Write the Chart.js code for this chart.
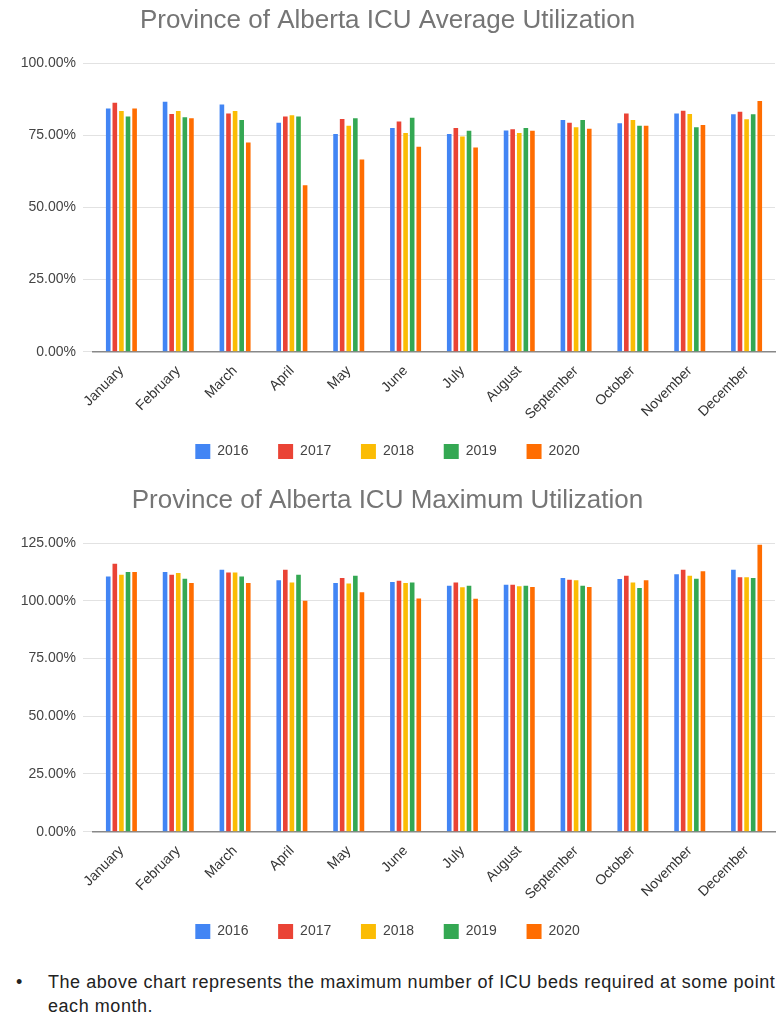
<!DOCTYPE html>
<html>
<head>
<meta charset="utf-8">
<script src="https://cdn.jsdelivr.net/npm/chart.js@4/dist/chart.umd.min.js"></script>
<style>
  body { margin: 0; background: #fff; font-family: "Liberation Sans", Arial, sans-serif; overflow: hidden; }
  .chart-box { position: absolute; left: 0; width: 777px; }
  #avg-box { top: 0; height: 469px; }
  #max-box { top: 480px; height: 469px; }
  .note {
    position: absolute; top: 970px; left: 0; width: 777px;
    margin: 0; padding: 0; list-style: none;
    font-size: 18px; letter-spacing: 0.55px; line-height: 24px; color: #222;
    white-space: nowrap;
  }
  .note li { position: relative; padding-left: 48px; }
  .note li::before { content: "\2022"; position: absolute; left: 16px; letter-spacing: 0; }
</style>
</head>
<body>
<div class="chart-box" id="avg-box"><canvas id="avg-chart"></canvas></div>
<div class="chart-box" id="max-box"><canvas id="max-chart"></canvas></div>
<ul class="note">
  <li>The above chart represents the maximum number of ICU beds required at some point<br>each month.</li>
</ul>
<script>
// Data
const months = ["January", "February", "March", "April", "May", "June", "July",
  "August", "September", "October", "November", "December"];
const years = ["2016", "2017", "2018", "2019", "2020"];
const yearColors = ["#4285f4", "#ea4335", "#fbbc04", "#34a853", "#ff6d01"];

const avg2016 = [84.3, 86.6, 85.7, 79.4, 75.5, 77.5, 75.5, 76.7, 80.3, 79.2, 82.6, 82.3];
const avg2017 = [86.3, 82.4, 82.6, 81.5, 80.7, 79.8, 77.5, 77.1, 79.4, 82.6, 83.5, 83.2];
const avg2018 = [83.4, 83.4, 83.4, 82.0, 78.3, 75.8, 74.6, 75.8, 77.8, 80.3, 82.4, 80.6];
const avg2019 = [81.5, 81.3, 80.3, 81.5, 80.9, 81.1, 76.6, 77.5, 80.3, 78.3, 77.8, 82.3];
const avg2020 = [84.3, 80.9, 72.5, 57.7, 66.6, 71.0, 70.8, 76.6, 77.3, 78.3, 78.6, 86.9];

const max2016 = [110.6, 112.5, 113.5, 108.9, 107.8, 108.2, 106.6, 107.0, 109.9, 109.5, 111.6, 113.5];
const max2017 = [116.1, 111.3, 112.3, 113.5, 109.9, 108.7, 108.0, 107.0, 109.2, 110.9, 113.5, 110.2];
const max2018 = [111.3, 112.1, 112.3, 108.0, 107.5, 107.8, 105.9, 106.3, 109.0, 108.0, 110.9, 110.2];
const max2019 = [112.5, 109.6, 110.6, 111.3, 110.9, 108.0, 106.6, 106.6, 106.6, 105.6, 109.6, 109.9];
const max2020 = [112.5, 107.8, 107.8, 100.1, 103.7, 101.0, 100.9, 106.0, 106.0, 109.0, 112.8, 124.3];

const avgTicksMax = 100;
const maxTicksMax = 125;

const fontFamily = "'Liberation Sans', Arial, sans-serif";

// Helpers
function makeDatasets(seriesList) {
  return seriesList.map(function (values, index) {
    return {
      label: years[index],
      data: values,
      backgroundColor: yearColors[index],
      borderWidth: 0,
      categoryPercentage: 0.58,
      barPercentage: 0.7,
    };
  });
}

// wider gaps between legend items without extra vertical padding
function spacedLegendLabels(chart) {
  const items = Chart.defaults.plugins.legend.labels.generateLabels(chart);
  for (let index = 0; index < items.length - 1; index++) {
    items[index].text = items[index].text + "   ";
  }
  return items;
}

function makeConfig(titleText, seriesList, yMax) {
  return {
    type: "bar",
    data: { labels: months, datasets: makeDatasets(seriesList) },
    options: {
      responsive: true,
      maintainAspectRatio: false,
      animation: false,
      layout: { padding: { left: 0, right: 2, top: 0, bottom: 0 } },
      plugins: {
        title: {
          display: true,
          text: titleText,
          color: "#757575",
          font: { size: 26, weight: "normal", family: fontFamily },
          padding: { top: 5, bottom: 27 },
        },
        legend: {
          position: "bottom",
          labels: {
            boxWidth: 15,
            boxHeight: 15,
            padding: 18,
            color: "#444",
            font: { size: 14, family: fontFamily },
            generateLabels: spacedLegendLabels,
          },
        },
        tooltip: { enabled: false },
      },
      scales: {
        x: {
          grid: { display: false },
          border: { color: "#888", width: 1.5 },
          ticks: {
            color: "#333",
            maxRotation: 45,
            minRotation: 45,
            autoSkip: false,
            font: { size: 14, family: fontFamily },
          },
        },
        y: {
          min: 0,
          max: yMax,
          border: { display: false },
          grid: { color: "#e2e2e2", tickLength: 10 },
          afterFit: function (scale) {
            scale.width = 93;
          },
          ticks: {
            stepSize: 25,
            padding: 7,
            color: "#444",
            font: { size: 14, family: fontFamily },
            callback: function (value) {
              return value.toFixed(2) + "%";
            },
          },
        },
      },
    },
  };
}

// Charts
new Chart(
  document.getElementById("avg-chart"),
  makeConfig("Province of Alberta ICU Average Utilization",
    [avg2016, avg2017, avg2018, avg2019, avg2020], avgTicksMax),
);
new Chart(
  document.getElementById("max-chart"),
  makeConfig("Province of Alberta ICU Maximum Utilization",
    [max2016, max2017, max2018, max2019, max2020], maxTicksMax),
);
</script>
</body>
</html>
